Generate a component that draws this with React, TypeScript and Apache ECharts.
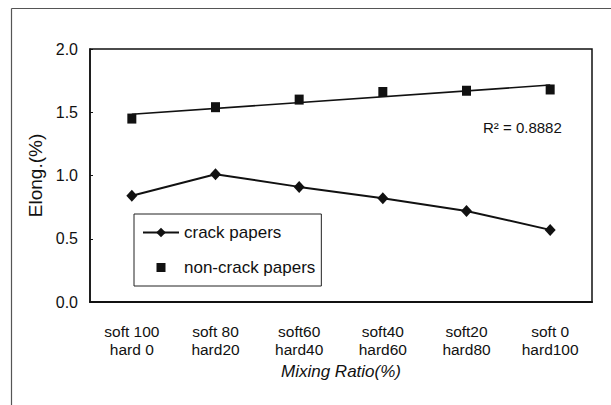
import React, { useEffect, useRef } from "react";
import * as echarts from "echarts";

const categories = [
  "soft 100\nhard 0",
  "soft 80\nhard20",
  "soft60\nhard40",
  "soft40\nhard60",
  "soft20\nhard80",
  "soft 0\nhard100",
];
const crackPapers = [0.84, 1.01, 0.91, 0.82, 0.72, 0.57];
const nonCrackPapers = [1.45, 1.54, 1.6, 1.66, 1.67, 1.68];
const trendEnds = [1.484, null, null, null, null, 1.715];
const yTicks = { min: 0, max: 2, interval: 0.5 };
const r2Label = "R\u00B2 = 0.8882";

const FONT = "'Liberation Sans', Arial, sans-serif";

export default function App() {
  const ref = useRef<HTMLDivElement>(null);
  useEffect(() => {
    if (!ref.current) return;
    const chart = echarts.init(ref.current, null, { renderer: "svg" });
    chart.setOption({
      animation: false,
      backgroundColor: "#fff",
      textStyle: { fontFamily: FONT, color: "#111" },
      grid: {
        left: 90,
        right: 19,
        top: 49,
        bottom: 103,
        show: true,
        borderColor: "#111",
        borderWidth: 1.5,
      },
      legend: {
        data: [
          { name: "crack papers" },
          {
            name: "non-crack papers",
            icon: "path://M0,0M12,12M1.5,1.5h9v9h-9z",
            itemStyle: { color: "#111", opacity: 1 },
          },
        ],
        orient: "vertical",
        left: 134,
        top: 214,
        itemWidth: 36,
        itemHeight: 12,
        itemGap: 18,
        padding: [10, 6, 10, 8],
        borderColor: "#222",
        borderWidth: 1,
        backgroundColor: "#fff",
        textStyle: { fontFamily: FONT, fontSize: 17, color: "#111", lineHeight: 17 },
      },
      xAxis: {
        type: "category",
        data: categories,
        boundaryGap: true,
        name: "Mixing Ratio(%)",
        nameLocation: "middle",
        nameGap: 61,
        nameTextStyle: { fontFamily: FONT, fontSize: 17, fontStyle: "italic", color: "#111" },
        axisLine: { lineStyle: { color: "#111", width: 2 } },
        axisTick: { inside: true, length: 4, lineStyle: { color: "#111", width: 1 } },
        axisLabel: {
          fontFamily: FONT,
          fontSize: 15.5,
          color: "#111",
          margin: 20,
          lineHeight: 18,
          interval: 0,
        },
        splitLine: { show: false },
      },
      yAxis: {
        type: "value",
        min: yTicks.min,
        max: yTicks.max,
        interval: yTicks.interval,
        name: "Elong.(%)",
        nameLocation: "middle",
        nameGap: 40,
        nameRotate: 90,
        nameTextStyle: { fontFamily: FONT, fontSize: 19, color: "#111" },
        axisLine: { show: true, lineStyle: { color: "#111", width: 1.5 } },
        axisTick: { show: true, inside: true, length: 3, lineStyle: { color: "#111" } },
        axisLabel: {
          fontFamily: FONT,
          fontSize: 16,
          color: "#111",
          margin: 12,
          formatter: (v: number) => v.toFixed(1),
        },
        splitLine: { show: false },
      },
      series: [
        {
          name: "crack papers",
          type: "line",
          data: crackPapers,
          symbol: "diamond",
          symbolSize: [11, 12],
          itemStyle: { color: "#111" },
          lineStyle: { color: "#111", width: 2 },
          z: 3,
        },
        {
          name: "non-crack papers",
          type: "scatter",
          data: nonCrackPapers,
          symbol: "rect",
          symbolSize: [9, 10],
          itemStyle: { color: "#111", opacity: 1 },
          z: 4,
        },
        {
          name: "trend",
          type: "line",
          data: trendEnds,
          connectNulls: true,
          symbol: "none",
          lineStyle: { color: "#111", width: 1.6 },
          silent: true,
          z: 2,
        },
      ],
      graphic: [
        {
          type: "line",
          shape: { x1: 11.5, y1: 8.5, x2: 611, y2: 8.5 },
          style: { stroke: "#555", lineWidth: 1.2 },
        },
        {
          type: "line",
          shape: { x1: 11.5, y1: 8.5, x2: 11.5, y2: 405 },
          style: { stroke: "#555", lineWidth: 1.2 },
        },
        {
          type: "text",
          left: 483,
          top: 120,
          style: {
            text: r2Label,
            fontFamily: FONT,
            fontSize: 15,
            fill: "#111",
          },
        },
      ],
    });
    return () => chart.dispose();
  }, []);
  return <div ref={ref} style={{ width: 611, height: 405, position: "fixed", left: 0, top: 0 }} />;
}
